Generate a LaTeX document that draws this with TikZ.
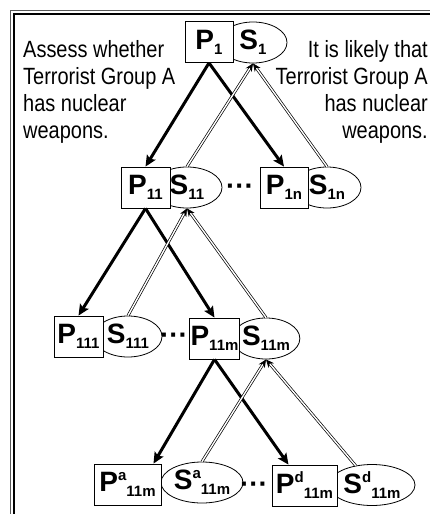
\documentclass[tikz,border=0pt]{standalone}
\usepackage{fontspec}
\setmainfont{Liberation Sans}[BoldFont={Liberation Sans Bold}]
\newfontfamily\narrowsf[FakeStretch=0.85]{Liberation Sans}
\newfontfamily\boldsf{Liberation Sans Bold}
\usetikzlibrary{shapes.geometric,arrows.meta}
\newcommand\psub[1]{\raisebox{-5pt}{\fontsize{15}{15}\selectfont #1}}
\newcommand\psup[1]{\raisebox{11pt}{\fontsize{15}{15}\selectfont #1}}
\begin{document}
\begin{tikzpicture}[x=1pt,y=-1pt]
\tikzset{pbox/.style={draw,fill=white,line width=0.8pt,minimum width=49pt,minimum height=41pt,inner sep=1pt,font=\boldsf\fontsize{28}{28}\selectfont},
sell/.style={draw,ellipse,line width=0.8pt,minimum width=68pt,minimum height=41pt,inner sep=0pt,font=\boldsf\fontsize{28}{28}\selectfont},
dotsn/.style={inner sep=0pt,font=\boldsf\fontsize{28}{28}\selectfont},
txt/.style={inner sep=0pt,font=\narrowsf\fontsize{23.5}{27}\selectfont},
fwd/.style={line width=3pt,-{Stealth[length=11pt,width=10pt,inset=2pt]}},
bwd/.style={double,double distance=1.4pt,line width=0.7pt,-{Stealth[length=8pt,width=7pt]}}}
\useasboundingbox(0,0)rectangle(430,514);
%% khung
\draw[gray!70!black,line width=1pt](10.5,514)|-(430,10.5);
\draw[line width=2.5pt](13.75,514)|-(430,13.75);
%% ellipses first, boxes on top
\path(253,42.5)node[sell](S1){S\psub{1}};
\path(187,187.5)node[sell,minimum width=70pt](S11){S\psub{11}};
\path(327,187.5)node[sell](S1n){S\psub{1n}};
\path(128,336.5)node[sell](S111){S\psub{111}};
\path(266,338.5)node[sell,minimum width=66pt](S11m){S\psub{11m}};
\path(202,482.5)node[sell,minimum width=82pt](Sa){S\psup{a}\psub{11m}};
\path(372,485)node[sell,minimum width=86pt](Sd){S\psup{d}\psub{11m}};
\path(209,42)node[pbox,minimum width=48pt](P1){P\psub{1}};
\path(145.5,187.5)node[pbox](P11){P\psub{11}};
\path(284,187.5)node[pbox,minimum width=48pt](P1n){P\psub{1n}};
\path(78.5,336.5)node[pbox](P111){P\psub{111}};
\path(214.5,338.5)node[pbox](P11m){P\psub{11m}};
\path(127.5,484.5)node[pbox,minimum width=67pt](Pa){P\psup{a}\psub{11m}};
\path(304.5,485.5)node[pbox,minimum width=65pt](Pd){P\psup{d}\psub{11m}};
\path(240,190)node[dotsn](d1){\textperiodcentered\textperiodcentered\textperiodcentered}
(174,339)node[dotsn](d2){\textperiodcentered\textperiodcentered\textperiodcentered}
(254,488)node[dotsn](d3){\textperiodcentered\textperiodcentered\textperiodcentered};
%% text
\node[txt,align=left,anchor=north west](L)at(23,39.9){Assess whether\\Terrorist Group A\\has nuclear\\weapons.};
\node[txt,align=right,anchor=north east](R)at(428,39.9){It is likely that\\Terrorist Group A\\has nuclear\\weapons.};
%% arrows
\foreach \x/\y in {
P1.south/P11.north,P1.south/P1n.north,
P11.south/P111.north,P11.south/P11m.north}
\draw[fwd](\x)--(\y);
\draw[fwd](P11m.south)--([xshift=26pt]Pa.north);
\draw[fwd](P11m.south)--([xshift=-16pt]Pd.north);
\foreach \x/\y in {
S11.north/S1.south,S1n.north/S1.south,
S111.north/S11.south,S11m.north/S11.south,
Sa.north/S11m.south,Sd/S11m.south}
\draw[bwd](\x)--(\y);
\end{tikzpicture}
\end{document}
